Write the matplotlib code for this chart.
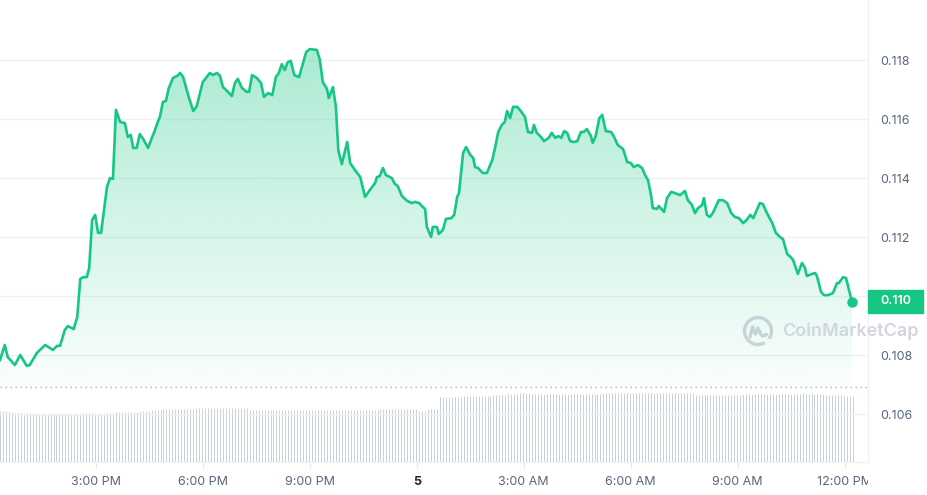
import numpy as np
import pandas as pd
import matplotlib
matplotlib.use("Agg")
import matplotlib.pyplot as plt
import matplotlib.dates as mdates
from matplotlib.patches import Polygon, Rectangle, Arc
from matplotlib.transforms import Bbox, TransformedBbox

plt.rcParams["font.family"] = ["Inter", "DejaVu Sans"]

# ---- data ----
start = pd.Timestamp("2024-09-04 12:19")

# price samples: minutes after start, price in USD
price_minutes = [0, 8, 13, 25, 34, 45, 50, 62, 76, 89, 96, 101, 109, 114, 124, 130, 135, 140, 146, 150,
                 155, 160, 165, 170, 180, 185, 190, 195, 202, 210, 215, 220, 224, 230, 235, 241, 249, 256, 259, 266,
                 269, 274, 279, 284, 291, 298, 303, 308, 315, 318, 325, 331, 341, 353, 358, 365, 370, 375, 382, 390,
                 395, 400, 407, 415, 419, 424, 432, 439, 444, 451, 458, 464, 469, 474, 479, 484, 489, 495, 503, 515,
                 521, 533, 538, 543, 550, 553, 560, 565, 569, 575, 584, 589, 597, 606, 614, 622, 631, 634, 639, 644,
                 649, 659, 664, 669, 676, 685, 693, 698, 705, 711, 715, 718, 725, 728, 735, 738, 745, 750, 759, 764,
                 769, 772, 779, 784, 791, 796, 799, 804, 812, 819, 828, 833, 838, 844, 849, 853, 858, 863, 870, 876,
                 883, 888, 895, 898, 903, 910, 915, 923, 928, 934, 939, 944, 949, 954, 959, 965, 971, 977, 982, 987,
                 994, 997, 1002, 1008, 1013, 1019, 1028, 1033, 1039, 1048, 1055, 1061, 1066, 1073, 1080, 1085, 1090, 1095, 1098, 1105,
                 1108, 1117, 1122, 1129, 1135, 1144, 1152, 1157, 1164, 1169, 1174, 1181, 1184, 1189, 1194, 1199, 1209, 1216, 1223, 1230,
                 1236, 1243, 1250, 1256, 1262, 1267, 1273, 1278, 1283, 1290, 1299, 1305, 1312, 1317, 1324, 1330, 1334, 1342, 1349, 1354,
                 1357, 1366, 1371, 1374, 1381, 1386, 1393, 1401, 1408, 1411, 1418, 1423, 1433]

price_values = [0.10783, 0.10834, 0.10793, 0.10766, 0.10800, 0.10763, 0.10766, 0.10807, 0.10834, 0.10817,
                0.10831, 0.10831, 0.10885, 0.10898, 0.10888, 0.10929, 0.11058, 0.11064, 0.11064, 0.11095,
                0.11258, 0.11275, 0.11214, 0.11214, 0.11370, 0.11400, 0.11397, 0.11631, 0.11590, 0.11586,
                0.11539, 0.11546, 0.11502, 0.11502, 0.11549, 0.11532, 0.11502, 0.11539, 0.11553, 0.11593,
                0.11607, 0.11658, 0.11661, 0.11705, 0.11739, 0.11746, 0.11756, 0.11742, 0.11692, 0.11671,
                0.11627, 0.11644, 0.11725, 0.11756, 0.11749, 0.11756, 0.11746, 0.11708, 0.11695, 0.11678,
                0.11722, 0.11736, 0.11705, 0.11692, 0.11692, 0.11749, 0.11739, 0.11722, 0.11675, 0.11688,
                0.11681, 0.11742, 0.11756, 0.11786, 0.11766, 0.11793, 0.11797, 0.11749, 0.11742, 0.11827,
                0.11837, 0.11834, 0.11800, 0.11725, 0.11702, 0.11671, 0.11708, 0.11641, 0.11495, 0.11447,
                0.11522, 0.11451, 0.11427, 0.11403, 0.11336, 0.11359, 0.11383, 0.11403, 0.11407, 0.11434,
                0.11410, 0.11400, 0.11380, 0.11373, 0.11339, 0.11322, 0.11315, 0.11319, 0.11315, 0.11302,
                0.11295, 0.11234, 0.11200, 0.11234, 0.11234, 0.11210, 0.11224, 0.11261, 0.11264, 0.11275,
                0.11336, 0.11349, 0.11485, 0.11505, 0.11478, 0.11468, 0.11437, 0.11434, 0.11417, 0.11417,
                0.11461, 0.11505, 0.11556, 0.11580, 0.11590, 0.11627, 0.11603, 0.11641, 0.11641, 0.11627,
                0.11607, 0.11556, 0.11553, 0.11580, 0.11553, 0.11539, 0.11525, 0.11536, 0.11553, 0.11536,
                0.11542, 0.11536, 0.11559, 0.11553, 0.11525, 0.11522, 0.11525, 0.11556, 0.11556, 0.11566,
                0.11542, 0.11519, 0.11542, 0.11603, 0.11614, 0.11559, 0.11556, 0.11539, 0.11512, 0.11498,
                0.11454, 0.11451, 0.11437, 0.11444, 0.11434, 0.11410, 0.11393, 0.11342, 0.11298, 0.11295,
                0.11305, 0.11285, 0.11332, 0.11353, 0.11349, 0.11342, 0.11356, 0.11325, 0.11308, 0.11281,
                0.11298, 0.11308, 0.11332, 0.11275, 0.11268, 0.11281, 0.11325, 0.11325, 0.11315, 0.11281,
                0.11268, 0.11264, 0.11247, 0.11258, 0.11275, 0.11264, 0.11292, 0.11315, 0.11312, 0.11281,
                0.11247, 0.11214, 0.11200, 0.11193, 0.11142, 0.11132, 0.11122, 0.11075, 0.11112, 0.11095,
                0.11068, 0.11075, 0.11078, 0.11068, 0.11014, 0.11003, 0.11003, 0.11010, 0.11044, 0.11044,
                0.11064, 0.11061, 0.10980]

# volume, one bar every 5 minutes (relative units)
volume_values = [
    68.4, 68.4, 68.4, 67.1, 66.3, 65.7, 64.9, 64.9, 64.9, 64.9, 64.9, 63.6,
    63.6, 63.6, 63.6, 63.6, 63.6, 63.6, 63.6, 63.6, 63.6, 63.6, 63.6, 63.6,
    63.6, 63.6, 63.6, 64.9, 64.9, 64.9, 64.9, 64.9, 63.6, 63.6, 63.6, 63.6,
    64.9, 64.9, 65.7, 67.1, 67.1, 67.1, 67.1, 67.1, 67.1, 67.1, 67.1, 68.4,
    68.4, 68.4, 68.4, 69.3, 69.3, 69.3, 69.3, 70.3, 70.3, 70.3, 70.3, 70.3,
    70.3, 70.3, 70.3, 70.3, 70.3, 70.3, 71.6, 71.6, 71.6, 71.6, 71.6, 71.6,
    71.6, 71.6, 71.6, 71.6, 71.6, 71.6, 71.6, 71.6, 71.6, 71.6, 71.6, 71.6,
    69.8, 69.8, 69.8, 69.8, 69.8, 69.8, 69.8, 69.8, 69.8, 69.8, 69.8, 69.8,
    69.8, 69.8, 69.8, 69.8, 69.8, 69.8, 70.0, 70.0, 70.0, 70.0, 70.0, 70.0,
    70.0, 70.0, 70.0, 70.0, 70.0, 70.0, 70.0, 70.0, 70.0, 70.0, 70.0, 70.0,
    70.0, 70.0, 70.0, 70.0, 70.0, 70.0, 70.0, 70.0, 70.7, 70.7, 70.7, 70.7,
    70.2, 70.2, 70.2, 70.2, 70.2, 70.2, 70.2, 70.2, 70.2, 68.4, 68.4, 68.4,
    70.2, 70.2, 70.2, 70.2, 86.3, 86.3, 86.3, 86.3, 86.3, 86.3, 86.3, 86.3,
    87.6, 87.6, 87.6, 87.6, 87.6, 87.6, 87.6, 87.6, 87.6, 87.6, 88.9, 88.9,
    88.9, 88.9, 88.9, 90.3, 90.3, 90.3, 90.3, 91.6, 91.6, 91.6, 91.6, 91.3,
    91.3, 91.3, 91.3, 91.3, 91.3, 91.3, 91.3, 91.3, 91.3, 91.3, 91.3, 91.3,
    91.3, 91.3, 91.3, 91.3, 91.3, 91.3, 91.3, 91.3, 91.3, 91.3, 91.3, 91.6,
    91.6, 91.6, 91.6, 91.6, 91.6, 91.6, 91.6, 91.6, 91.6, 91.6, 91.6, 91.6,
    91.6, 91.6, 91.6, 91.6, 91.6, 91.6, 91.6, 91.6, 91.6, 91.6, 91.6, 91.6,
    91.6, 91.6, 91.6, 91.6, 91.6, 91.6, 89.3, 89.3, 89.3, 89.3, 89.3, 89.3,
    89.3, 89.3, 89.3, 89.3, 89.3, 89.3, 89.3, 89.3, 89.3, 89.3, 90.3, 90.3,
    90.3, 90.3, 90.3, 90.3, 90.3, 90.3, 90.3, 90.3, 90.3, 90.3, 90.3, 90.3,
    90.3, 90.3, 90.3, 90.3, 90.3, 90.3, 91.6, 90.3, 90.3, 90.3, 90.3, 90.3,
    90.3, 90.3, 89.3, 89.3, 89.3, 89.3, 89.3, 89.3, 87.6, 87.6, 87.6, 87.6,
]

price_ticks = [0.106, 0.108, 0.110, 0.112, 0.114, 0.116, 0.118]
time_ticks = ["2024-09-04 15:00", "2024-09-04 18:00", "2024-09-04 21:00", "2024-09-05 00:00",
              "2024-09-05 03:00", "2024-09-05 06:00", "2024-09-05 09:00", "2024-09-05 12:00"]
time_labels = ["3:00 PM", "6:00 PM", "9:00 PM", "5", "3:00 AM", "6:00 AM", "9:00 AM", "12:00 PM"]
last_label = "0.110"

GREEN = "#16c784"
GREY = "#58667e"
GRID = "#eff2f5"

price_times = start + pd.to_timedelta(price_minutes, unit="min")
vol_times = pd.date_range(start, periods=len(volume_values), freq="5min")
px = mdates.date2num(price_times)
vx = mdates.date2num(vol_times)

W, H = 928, 495
fig = plt.figure(figsize=(W / 100, H / 100), dpi=100)
fig.patch.set_facecolor("white")

ax = fig.add_axes([0, 1 - 462 / H, 868 / W, 462 / H])
vax = ax.twinx()
ax.set_zorder(vax.get_zorder() + 1)
ax.patch.set_visible(False)

x_end = mdates.date2num(start + pd.Timedelta(minutes=1460))
ylo, yhi = 0.104373, 0.120034

# volume bars (thin 1px lines snapped to the pixel grid)
vax.vlines(vx, 0, volume_values, colors="#c9d1df", linewidth=0.72, snap=True)
vax.set_ylim(0, 616)
vax.axhline(100, color="#aab0ba", lw=1.0, linestyle=(0, (1, 2.6)))
vax.set_yticks([])
for s in vax.spines.values():
    s.set_visible(False)

# gridlines
for t in price_ticks:
    ax.axhline(t, color=GRID, lw=1, zorder=0)

# gradient fill under the price line
base = 0.106915
top = max(price_values)
verts = [(px[0], base)] + list(zip(px, price_values)) + [(px[-1], base)]
poly = Polygon(verts, closed=True, facecolor="none", edgecolor="none")
ax.add_patch(poly)
n = 256
grad = np.zeros((n, 1, 4))
grad[:, 0, 0] = 22 / 255
grad[:, 0, 1] = 199 / 255
grad[:, 0, 2] = 132 / 255
grad[:, 0, 3] = np.linspace(0.02, 0.36, n)
im = ax.imshow(grad, aspect="auto", origin="lower",
               extent=[px[0], px[-1], base, top], zorder=1)
im.set_clip_path(poly)
ax.set_xlim(px[0], x_end)
ax.set_ylim(ylo, yhi)

# price line and last point
ax.plot(px, price_values, color=GREEN, lw=1.9, zorder=3, solid_joinstyle="round")
ax.plot(px[-1], price_values[-1], "o", color=GREEN, ms=6.5, zorder=4, clip_on=False)

# axes styling
for name, s in ax.spines.items():
    if name in ("right", "bottom"):
        s.set_color(GRID)
        s.set_linewidth(1)
    else:
        s.set_visible(False)

# the 0.110 tick label sits under the last-price badge
ax.yaxis.tick_right()
ax.set_yticks(price_ticks)
ax.set_yticklabels(["" if f"{t:.3f}" == last_label else f"{t:.3f}" for t in price_ticks])
ax.tick_params(axis="y", length=0, pad=8.5, labelsize=9, labelcolor=GREY)

ax.set_xticks(mdates.date2num(pd.to_datetime(time_ticks)))
ax.set_xticklabels(time_labels)
ax.tick_params(axis="x", length=4, color="#e3e6eb", pad=6, labelsize=9, labelcolor=GREY)
clip = TransformedBbox(Bbox([[0, 0], [868 / W, 1]]), fig.transFigure)
for lab in ax.get_xticklabels():
    if lab.get_text() == "5":
        lab.set_fontweight("bold")
        lab.set_color("#222531")
    lab.set_clip_box(clip)
    lab.set_clip_on(True)

# last price badge
fig.patches.append(Rectangle((868 / W, 1 - 313 / H), 55 / W, 23 / H,
                             transform=fig.transFigure, color=GREEN, zorder=5))
fig.text(895.5 / W, 1 - 301.5 / H, last_label, color="white", fontsize=9,
         fontweight="semibold", ha="center", va="center", zorder=6)

# watermark
logo = fig.add_axes([742 / W, 1 - 347 / H, 32 / W, 32 / H])
logo.set_xlim(-16, 16)
logo.set_ylim(-16, 16)
logo.axis("off")
logo.patch.set_visible(False)
wm = "#d2d6de"
logo.add_patch(Arc((0, 0), 27, 27, theta1=-35, theta2=300, color=wm, lw=2.4))
logo.plot([-8, -5.5, -2.5, 0, 2.5, 4.5, 8.5], [-6, 4, -3, 3, -3, -5, -3.5], color=wm, lw=2.4,
          solid_joinstyle="round", solid_capstyle="round")
fig.text(782 / W, 1 - 331 / H, "CoinMarketCap", color=wm, fontsize=13,
         fontweight="semibold", ha="left", va="center")

fig.savefig("out.png", dpi=100, facecolor="white")
